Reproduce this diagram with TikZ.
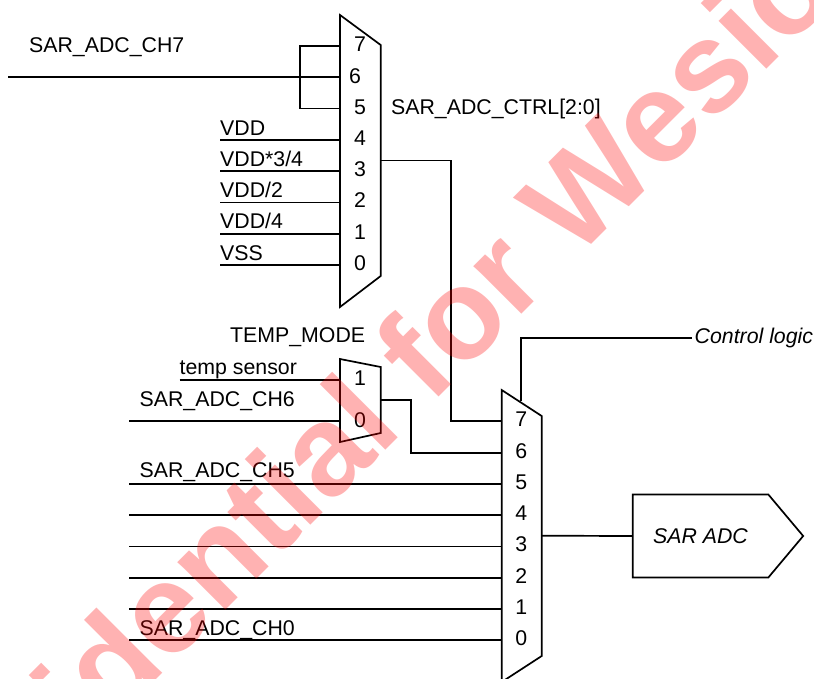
\documentclass[tikz,border=0pt]{standalone}
\usepackage{fontspec}
\setmainfont{Liberation Sans}
\usetikzlibrary{shapes.symbols}
\begin{document}
\begin{tikzpicture}[x=1pt, y=-1pt, line join=miter,
    every node/.style={font=\fontsize{21.3}{24}\selectfont, inner sep=0pt},
    wire/.style={draw, line width=1.7pt},
    muxbody/.style={draw, fill=white, line width=1.7pt},
    sig/.style={anchor=base west},
    pin/.style={anchor=center}]
  \useasboundingbox (0,0) rectangle (814,678);
  \clip (0,0) rectangle (814,678);
  % Upper mux
  \coordinate (upa) at (340,15); \coordinate (upb) at (380.7,45); \coordinate (upc) at (380.7,276); \coordinate (upd) at (340,307);
  \draw[muxbody] (upa) -- (upb) -- (upc) -- (upd) -- cycle;
  \node[pin] (up7) at (360,44) {7};
  \node[pin] (up6) at (355,76) {6};
  \node[pin] (up5) at (360,107) {5};
  \node[pin] (up4) at (360,138) {4};
  \node[pin] (up3) at (360,169) {3};
  \node[pin] (up2) at (360,200) {2};
  \node[pin] (up1) at (360,232) {1};
  \node[pin] (up0) at (360,263) {0};
  \node[sig] (ctrlsel) at (391,114) {SAR\_ADC\_CTRL[2:0]};
  % Upper mux inputs
  \node[sig] (ch7) at (29,52) {SAR\_ADC\_CH7};
  \node[sig] (vdd) at (220,135) {VDD};
  \node[sig] (vddtq) at (220,166) {VDD*3/4};
  \node[sig] (vddh) at (220,197) {VDD/2};
  \node[sig] (vddq) at (220,228) {VDD/4};
  \node[sig] (vss) at (220,260) {VSS};
  \coordinate (ch7in) at (8,77); \coordinate (tie) at (300,77);
  \coordinate (upin7) at (340,46); \coordinate (upin6) at (340,77); \coordinate (upin5) at (340,108.5);
  \draw[wire] (ch7in) -- (upin6);
  \draw[wire] (upin7) -| (tie) |- (upin5);
  \coordinate (vddin) at (220,140); \coordinate (upin4) at (340,140);
  \coordinate (vddtqin) at (220,171); \coordinate (upin3) at (340,171);
  \coordinate (vddhin) at (220,202.5); \coordinate (upin2) at (340,202.5);
  \coordinate (vddqin) at (220,234); \coordinate (upin1) at (340,234);
  \coordinate (vssin) at (220,265); \coordinate (upin0) at (340,265);
  \draw[wire] (vddin) -- (upin4);
  \draw[wire] (vddtqin) -- (upin3);
  \draw[wire] (vddhin) -- (upin2);
  \draw[wire] (vddqin) -- (upin1);
  \draw[wire] (vssin) -- (upin0);
  % Small mux
  \coordinate (tma) at (340,359); \coordinate (tmb) at (380.7,367); \coordinate (tmc) at (380.7,433); \coordinate (tmd) at (340,442);
  \draw[muxbody] (tma) -- (tmb) -- (tmc) -- (tmd) -- cycle;
  \node[pin] (tm1) at (360,378) {1};
  \node[pin] (tm0) at (360,420) {0};
  \node[sig] (tmode) at (230,342.5) {TEMP\_MODE};
  \node[sig] (tsense) at (179.5,374) {temp sensor};
  \node[sig] (ch6) at (139.5,406) {SAR\_ADC\_CH6};
  \coordinate (tsensein) at (179.5,379.7); \coordinate (tmin1) at (340,379.7);
  \coordinate (ch6in) at (129,421); \coordinate (tmin0) at (340,421);
  \draw[wire] (tsensein) -- (tmin1);
  \draw[wire] (ch6in) -- (tmin0);
  % Lower mux
  \coordinate (lwa) at (501.7,390); \coordinate (lwb) at (541.7,416); \coordinate (lwc) at (541.7,656); \coordinate (lwd) at (501.7,682);
  \draw[muxbody] (lwa) -- (lwb) -- (lwc) -- (lwd) -- cycle;
  \node[pin] (lw7) at (521.3,419) {7};
  \node[pin] (lw6) at (521.3,451) {6};
  \node[pin] (lw5) at (521.3,482) {5};
  \node[pin] (lw4) at (521.3,513) {4};
  \node[pin] (lw3) at (521.3,544) {3};
  \node[pin] (lw2) at (521.3,576) {2};
  \node[pin] (lw1) at (521.3,607) {1};
  \node[pin] (lw0) at (521.3,638) {0};
  \coordinate (lwin7) at (501.7,421); \coordinate (lwin6) at (501.7,452.7);
  \coordinate (upout) at (380.7,160.5); \coordinate (upbend) at (451,160.5);
  \coordinate (tmout) at (380.7,400.3); \coordinate (tmbend) at (411,400.3);
  \draw[wire] (upout) -- (upbend) |- (lwin7);
  \draw[wire] (tmout) -- (tmbend) |- (lwin6);
  % Lower mux inputs
  \node[sig] (ch5) at (139.5,477.7) {SAR\_ADC\_CH5};
  \node[sig] (ch0) at (139.5,635) {SAR\_ADC\_CH0};
  \coordinate (ch5in) at (129,484); \coordinate (lwin5) at (501.7,484);
  \coordinate (ch4in) at (129,515); \coordinate (lwin4) at (501.7,515);
  \coordinate (ch3in) at (129,546.5); \coordinate (lwin3) at (501.7,546.5);
  \coordinate (ch2in) at (129,577.7); \coordinate (lwin2) at (501.7,577.7);
  \coordinate (ch1in) at (129,609); \coordinate (lwin1) at (501.7,609);
  \coordinate (ch0in) at (129,640); \coordinate (lwin0) at (501.7,640);
  \draw[wire] (ch5in) -- (lwin5);
  \draw[wire] (ch4in) -- (lwin4);
  \draw[wire] (ch3in) -- (lwin3);
  \draw[wire] (ch2in) -- (lwin2);
  \draw[wire] (ch1in) -- (lwin1);
  \draw[wire] (ch0in) -- (lwin0);
  % Control and output
  \node[anchor=west, inner xsep=2.8pt, font=\fontsize{21.3}{24}\selectfont\itshape] (ctrl) at (691.7,338.3) {Control logic};
  \coordinate (ctrlfoot) at (521.3,401);
  \draw[wire] (ctrlfoot) |- (ctrl.west);
  \node[draw, line width=1.7pt, shape=signal, signal to=east, signal pointer angle=100, minimum height=83pt, inner xsep=20.5pt, font=\fontsize{21.3}{24}\selectfont\itshape] (adc) at (700.5,536) {SAR ADC};
  \coordinate (lwout) at (541.7,535.7);
  \draw[wire] (lwout) -- (adc.west);
  % Overlay text
  \node[anchor=base west, rotate=45, text=red, text opacity=0.3, font=\fontsize{128}{132}\selectfont\bfseries] (overlay) at (-118,954) {Confidential for Wesion};
\end{tikzpicture}
\end{document}
